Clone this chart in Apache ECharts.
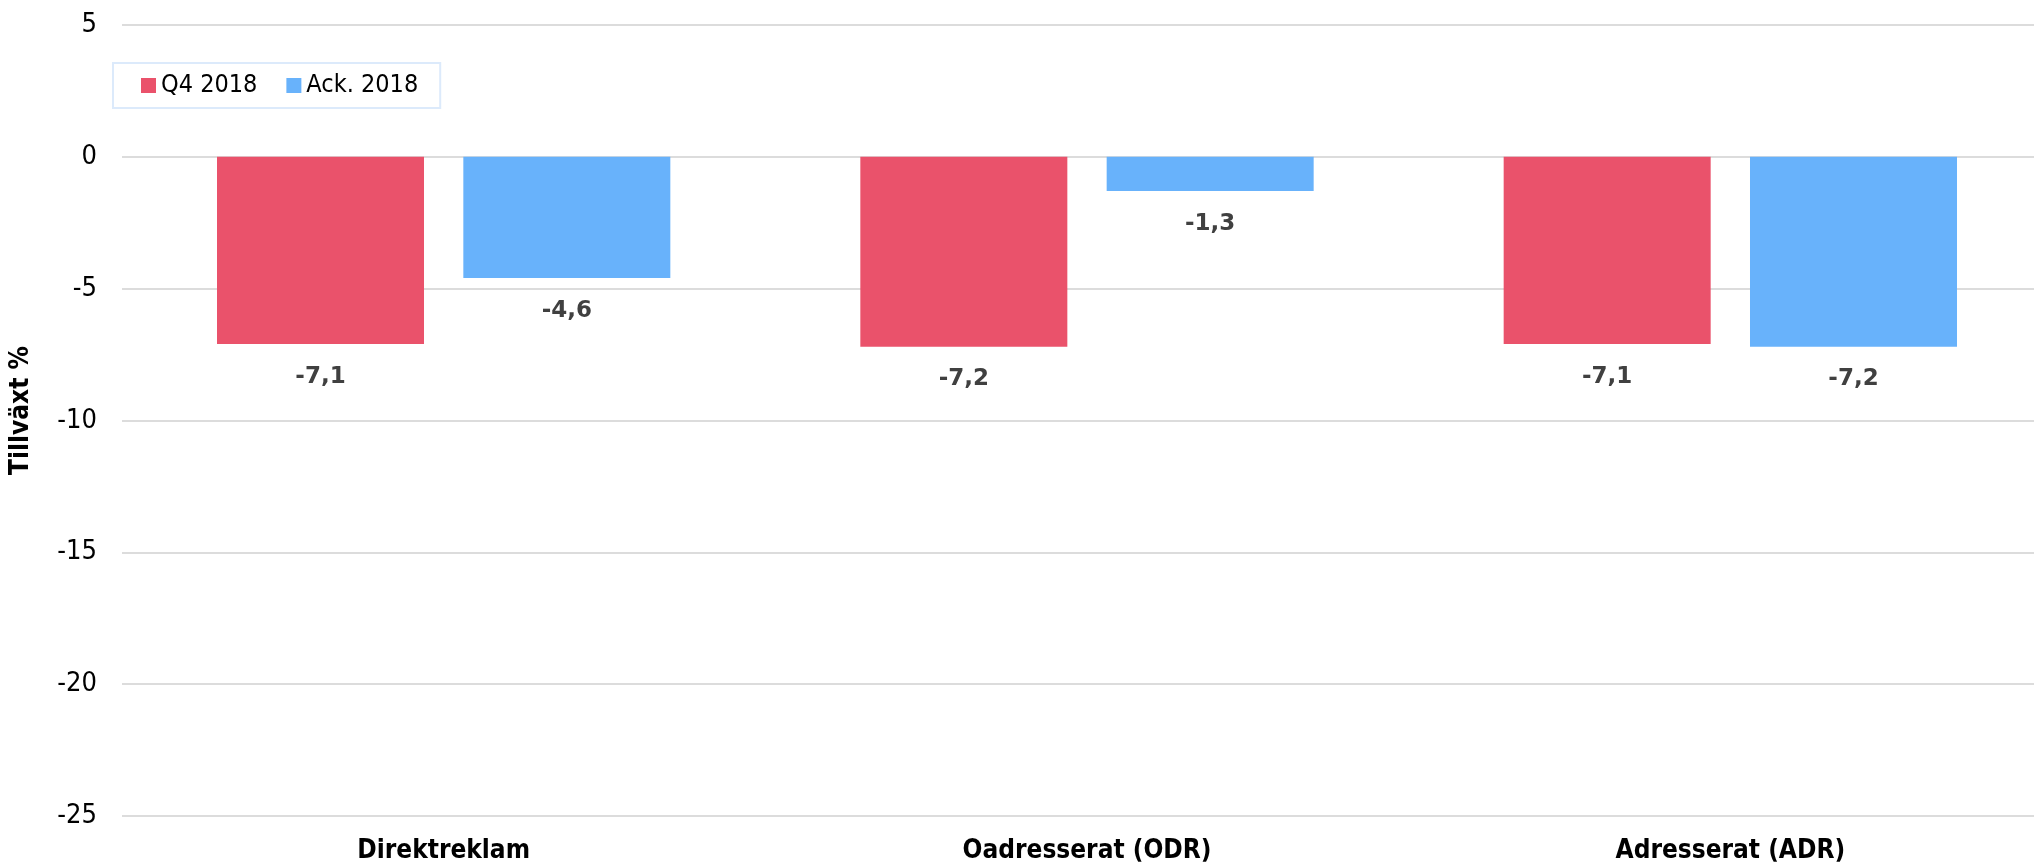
<!DOCTYPE html>
<html>
<head>
<meta charset="utf-8">
<script src="https://cdn.jsdelivr.net/npm/echarts@6/dist/echarts.min.js"></script>
<style>
    html, body { margin: 0; padding: 0; background: #fff; overflow: hidden; }
    #main { width: 2060px; height: 864px; }
</style>
</head>
<body>
<div id="main"></div>
<script>
    var categories = ['Direktreklam', 'Oadresserat (ODR)', 'Adresserat (ADR)'];
    var seriesNames = ['Q4 2018', 'Ack. 2018'];
    var q4Values = [-7.1, -7.2, -7.1];
    var ackValues = [-4.6, -1.3, -7.2];
    var yTicks = [-25, -20, -15, -10, -5, 0, 5];

    var colors = ['#ea526b', '#68b2fb'];
    var font = '"DejaVu Sans Condensed", "DejaVu Sans", sans-serif';

    // the plot area runs a bit past the right edge of the picture, so the div is wider than the window
    var myChart = echarts.init(document.getElementById('main'));

    function barSeries(name, data, color) {
        return {
            name: name,
            type: 'bar',
            data: data,
            barWidth: 207,
            barGap: '19%',
            itemStyle: { color: color },
            label: {
                show: true,
                position: 'bottom',
                distance: 21,
                color: '#404040',
                fontFamily: '"DejaVu Sans", sans-serif',
                fontWeight: 'bold',
                fontSize: 23,
                formatter: function (p) {
                    return p.value.toFixed(1).replace('.', ',');
                }
            }
        };
    }

    var option = {
        backgroundColor: '#fff',
        animation: false,
        legend: {
            left: 113,
            top: 63,
            data: seriesNames,
            icon: 'rect',
            itemWidth: 15,
            itemHeight: 15,
            itemGap: 29,
            padding: [10, 22, 10, 28],
            borderColor: '#dceafb',
            borderWidth: 2,
            textStyle: {
                fontFamily: font,
                fontSize: 25,
                color: '#000'
            }
        },
        grid: {
            left: 119,
            right: 8,
            top: 25,
            bottom: 47,
            containLabel: false
        },
        xAxis: {
            type: 'category',
            data: categories,
            axisLine: { show: false, onZero: false },
            axisTick: { show: false },
            axisLabel: {
                margin: 22,
                fontFamily: font,
                fontWeight: 'bold',
                fontSize: 26,
                color: '#000'
            }
        },
        yAxis: {
            type: 'value',
            min: yTicks[0],
            max: yTicks[yTicks.length - 1],
            interval: 5,
            name: 'Tillväxt %',
            nameLocation: 'middle',
            nameGap: 88,
            nameTextStyle: {
                fontFamily: font,
                fontWeight: 'bold',
                fontSize: 26,
                color: '#000',
                padding: [0, 0, 0, 20]
            },
            axisLine: { show: false },
            axisTick: { show: false },
            axisLabel: {
                margin: 25,
                fontFamily: font,
                fontSize: 27,
                color: '#000'
            },
            splitLine: {
                show: true,
                lineStyle: { color: '#dcdcdc', width: 2 }
            }
        },
        series: [
            barSeries(seriesNames[0], q4Values, colors[0]),
            barSeries(seriesNames[1], ackValues, colors[1])
        ]
    };

    myChart.setOption(option);
</script>
</body>
</html>
